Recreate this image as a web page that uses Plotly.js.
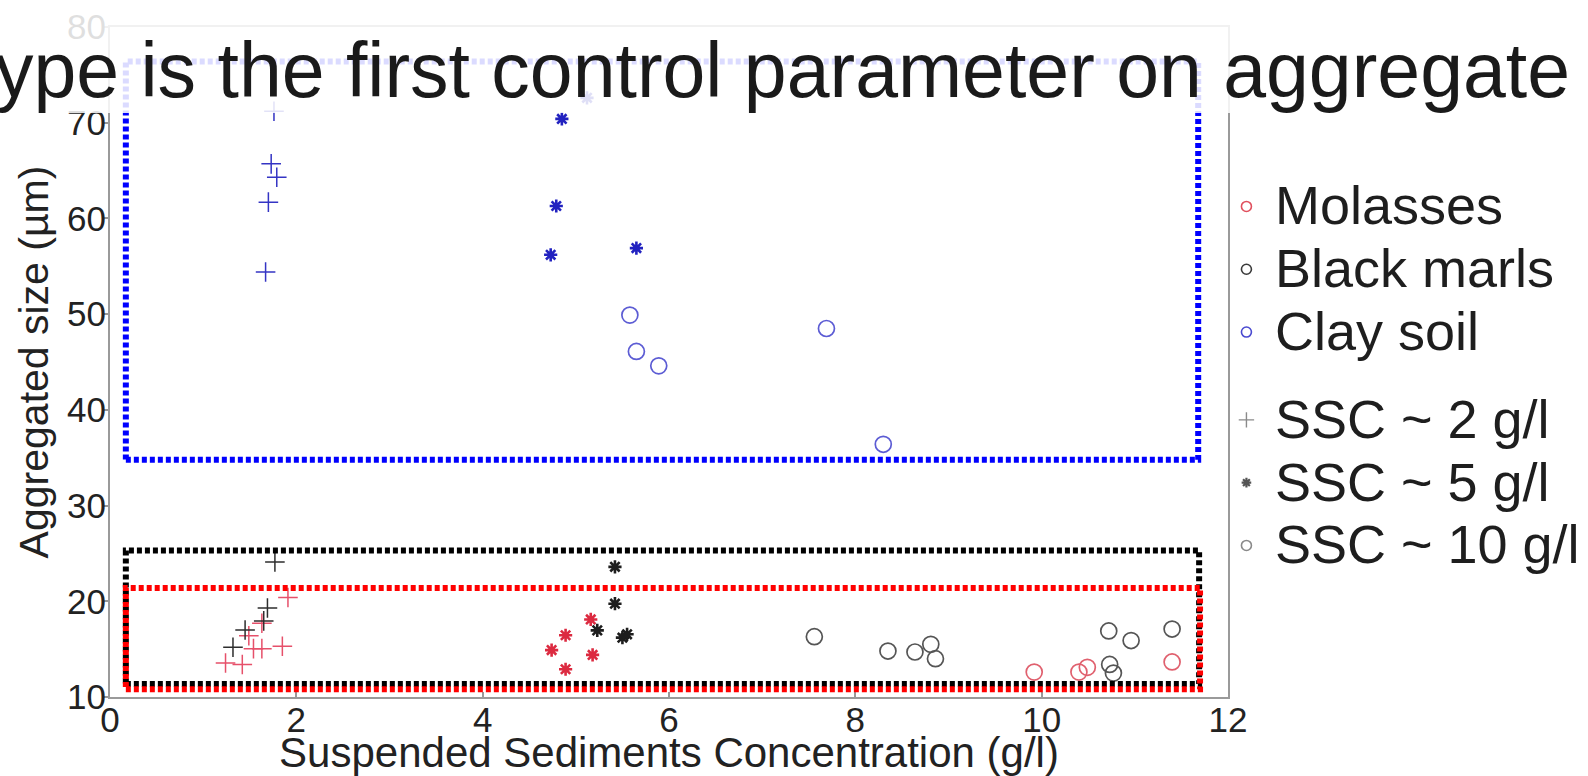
<!DOCTYPE html>
<html>
<head>
<meta charset="utf-8">
<script src="https://cdn.plot.ly/plotly-3.0.1.min.js"></script>
<style>
html,body{margin:0;padding:0;background:#ffffff;}
#chart{width:1588px;height:776px;}
</style>
</head>
<body>
<div id="chart"></div>
<script>
// ---- Data (x: SSC in g/l, y: aggregated size in µm) ----
// Molasses
const molassesSSC2X  = [1.91, 1.63, 1.49, 1.54, 1.63, 1.85, 1.24, 1.42];
const molassesSSC2Y  = [20.4, 17.7, 16.4, 15.05, 15.05, 15.3, 13.55, 13.4];
const molassesSSC5X  = [5.16, 4.89, 4.74, 5.18, 4.89];
const molassesSSC5Y  = [18.1, 16.45, 14.9, 14.4, 12.9];
const molassesSSC10X = [9.92, 10.40, 10.49, 11.40];
const molassesSSC10Y = [12.6, 12.6, 13.1, 13.66];
// Black marls
const marlsSSC2X  = [1.77, 1.69, 1.65, 1.45, 1.32];
const marlsSSC2Y  = [24.1, 19.3, 17.95, 17.0, 15.2];
const marlsSSC5X  = [5.42, 5.42, 5.23, 5.50, 5.55];
const marlsSSC5Y  = [23.6, 19.75, 16.96, 16.2, 16.55];
const marlsSSC10X = [7.56, 8.35, 8.64, 8.81, 8.86, 10.72, 10.96, 11.40, 10.73, 10.77];
const marlsSSC10Y = [16.3, 14.8, 14.7, 15.5, 14.0, 16.9, 15.9, 17.1, 13.4, 12.5];
// Clay soil
const claySSC2X  = [1.76, 1.73, 1.79, 1.70, 1.67];
const claySSC2Y  = [71.2, 65.7, 64.3, 61.7, 54.4];
const claySSC5X  = [5.12, 4.85, 4.79, 4.73, 5.65];
const claySSC5Y  = [72.6, 70.4, 61.3, 56.2, 56.9];
const claySSC10X = [5.58, 5.65, 5.89, 7.69, 8.30];
const claySSC10Y = [49.9, 46.1, 44.6, 48.5, 36.4];

// Legend labels
const soilNames = ['Molasses', 'Black marls', 'Clay soil'];
const sscNames  = ['SSC ~ 2 g/l', 'SSC ~ 5 g/l', 'SSC ~ 10 g/l'];

// Axis ticks
const xTicks = [0, 2, 4, 6, 8, 10, 12];
const yTicks = [10, 20, 30, 40, 50, 60, 70, 80];

// Group boxes (data units): [x0, x1, y0, y1]
const clayBox     = [0.17, 11.68, 34.8, 76.4];
const marlsBox    = [0.17, 11.69, 11.35, 25.3];
const molassesBox = [0.17, 11.70, 10.8, 21.4];

const titleText = 'Soil type is the first control parameter on aggregate size';
const xTitle = 'Suspended Sediments Concentration (g/l)';
const yTitle = 'Aggregated size (µm)';

// ---- Styles ----
const FONT = 'Liberation Sans, Arial, sans-serif';
const colors = {
  molasses: {plus: '#e6506a', star: '#dc2a40', circle: '#e0606e'},
  marls:    {plus: '#2e2e2e', star: '#1e1e1e', circle: '#555555'},
  clay:     {plus: '#3434c4', star: '#2222c0', circle: '#5c5cd4'}
};
const sym = {
  plus:   {symbol: 'cross-thin-open', size: 14, lw: 1.5},
  star:   {symbol: 'asterisk-open',   size: 11, lw: 2.6},
  circle: {symbol: 'circle-open',     size: 16, lw: 1.7}
};
function pts(x, y, kind, color) {
  return {
    type: 'scatter', mode: 'markers', x: x, y: y, showlegend: false, hoverinfo: 'x+y',
    marker: {symbol: sym[kind].symbol, size: sym[kind].size, color: color,
             line: {color: color, width: sym[kind].lw}}
  };
}
const traces = [
  pts(molassesSSC2X, molassesSSC2Y, 'plus', colors.molasses.plus),
  pts(marlsSSC2X, marlsSSC2Y, 'plus', colors.marls.plus),
  pts(claySSC2X, claySSC2Y, 'plus', colors.clay.plus),
  pts(molassesSSC5X, molassesSSC5Y, 'star', colors.molasses.star),
  pts(marlsSSC5X, marlsSSC5Y, 'star', colors.marls.star),
  pts(claySSC5X, claySSC5Y, 'star', colors.clay.star),
  pts(marlsSSC10X, marlsSSC10Y, 'circle', colors.marls.circle),
  pts(molassesSSC10X, molassesSSC10Y, 'circle', colors.molasses.circle),
  pts(claySSC10X, claySSC10Y, 'circle', colors.clay.circle)
];

// Legend-only entries
function big(t) { return '<span style="font-size:54px">' + t + '</span>'; }
function legendEntry(name, group, symbol, size, color, lw) {
  return {
    type: 'scatter', mode: 'markers', x: [null], y: [null], name: big(name),
    legendgroup: group, showlegend: true, hoverinfo: 'skip',
    marker: {symbol: symbol, size: size, color: color, line: {color: color, width: lw}}
  };
}
traces.push(legendEntry(soilNames[0], 'soil', 'circle-open', 10, '#e0505e', 1.6));
traces.push(legendEntry(soilNames[1], 'soil', 'circle-open', 10, '#3a3a3a', 1.6));
traces.push(legendEntry(soilNames[2], 'soil', 'circle-open', 10, '#4a4ad0', 1.6));
traces.push(legendEntry(sscNames[0], 'ssc', 'cross-thin-open', 11, '#8a8a8a', 1.4));
traces.push(legendEntry(sscNames[1], 'ssc', 'asterisk-open', 8, '#555555', 2.2));
traces.push(legendEntry(sscNames[2], 'ssc', 'circle-open', 10, '#8a8a8a', 1.6));

function boxShape(b, color) {
  return {type: 'rect', xref: 'x', yref: 'y', x0: b[0], x1: b[1], y0: b[2], y1: b[3],
          line: {color: color, width: 6, dash: '5px,3px'}, fillcolor: 'rgba(0,0,0,0)', layer: 'above'};
}

const layout = {
  width: 1588, height: 776,
  margin: {l: 110, r: 360, t: 27, b: 79, pad: 0, autoexpand: false},
  paper_bgcolor: '#ffffff', plot_bgcolor: '#ffffff',
  font: {family: FONT, color: '#222222', size: 36},
  title: {
    text: titleText, xref: 'container', yref: 'container',
    x: 0.4887, xanchor: 'center', y: 0.9098, yanchor: 'middle',
    font: {family: FONT, size: 77, color: '#1a1a1a'}
  },
  xaxis: {
    range: [0, 12], tickvals: xTicks, automargin: false,
    showgrid: false, zeroline: false, showline: true, linecolor: '#9a9a9a', linewidth: 2, mirror: true,
    ticks: 'inside', ticklen: 5, tickwidth: 1.5, tickcolor: '#9a9a9a',
    ticklabelstandoff: -9,
    tickfont: {family: FONT, size: 35, color: '#222222'},
    title: {text: xTitle, font: {family: FONT, size: 42, color: '#222222'}, standoff: 7}
  },
  yaxis: {
    range: [10, 80], tickvals: yTicks, automargin: false,
    showgrid: false, zeroline: false, showline: true, linecolor: '#9a9a9a', linewidth: 2, mirror: true,
    ticks: 'outside', ticklen: 4, tickwidth: 1.5, tickcolor: '#9a9a9a',
    ticklabelstandoff: -9,
    tickfont: {family: FONT, size: 35, color: '#222222'},
    title: {text: yTitle, font: {family: FONT, size: 41, color: '#222222'}, standoff: 6}
  },
  legend: {
    x: 0.991, xanchor: 'left', y: 0.7865, yanchor: 'top',
    bgcolor: 'rgba(0,0,0,0)', borderwidth: 0,
    font: {family: FONT, size: 46, color: '#1e1e1e'},
    itemwidth: 47, traceorder: 'grouped', tracegroupgap: 25
  },
  shapes: [
    boxShape(clayBox, '#0000ff'),
    boxShape(marlsBox, '#000000'),
    boxShape(molassesBox, '#ff0000'),
    {type: 'rect', xref: 'paper', yref: 'paper', x0: -0.2, x1: 1.4, y0: 0.8716, y1: 1.1,
     line: {width: 0}, fillcolor: 'rgba(255,255,255,0.86)', layer: 'above'}
  ],
  showlegend: true
};

Plotly.newPlot('chart', traces, layout, {displayModeBar: false, responsive: false});
</script>
</body>
</html>
